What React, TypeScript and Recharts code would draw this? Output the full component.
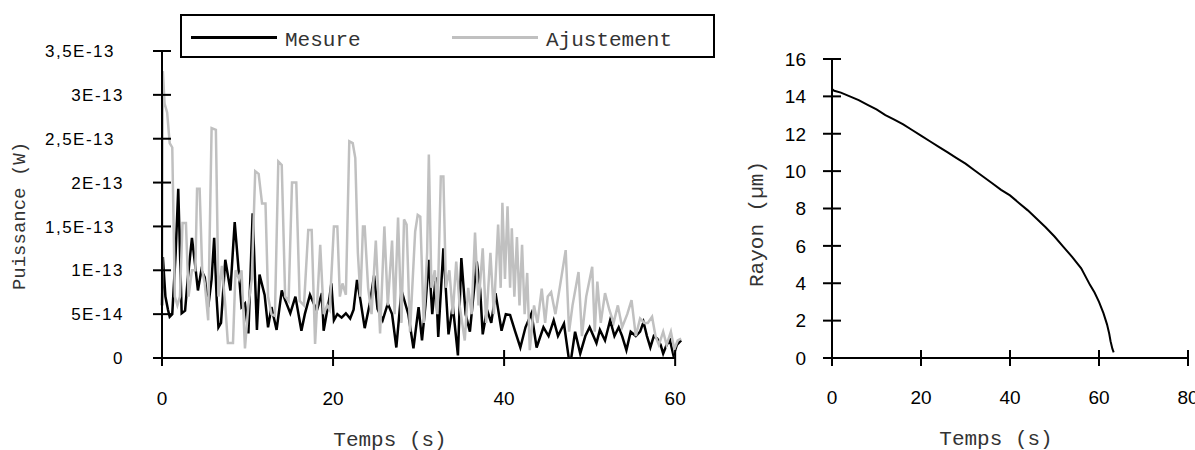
import React from 'react';
import { LineChart, Line, XAxis, YAxis, ReferenceLine } from 'recharts';

// Puissance (in units of 1E-14 W) : [temps (s), valeur]
const mesure: [number, number][] = [
  [0, 6], [0.1, 11.5], [0.4, 7], [0.7, 5.5], [0.9, 4.7], [1.2, 5], [1.6, 12], [1.9, 19.3], [2.3, 5.1], [2.7, 5.4],
  [3.0, 8.9], [3.5, 13.7], [3.9, 10.4], [4.2, 7.7], [4.6, 10], [5.0, 9.2], [5.4, 5.8], [5.8, 9], [6.1, 13.7], [6.4, 6.6],
  [6.6, 3.5], [6.9, 4], [7.4, 11.2], [8.0, 7.7], [8.5, 15.5], [9.0, 9.5], [9.3, 5.8], [9.7, 6.2], [10.1, 2.8], [10.6, 16.5],
  [11.1, 3.2], [11.4, 9.5], [12.0, 7.2], [12.4, 3.5], [12.8, 5.8], [13.4, 3.2], [14.0, 7.7], [14.4, 6.6], [15.0, 5.1], [15.6, 7],
  [16.3, 3.1], [16.7, 5], [17.3, 7.2], [18.1, 5.4], [18.7, 7.4], [18.9, 3.1], [19.6, 7], [19.8, 8.5], [20.1, 4.3], [20.5, 5],
  [21.0, 4.6], [21.5, 5.1], [22.0, 4.5], [22.4, 5.5], [22.8, 8.9], [23.2, 6.6], [23.7, 3.4], [24.3, 6.2], [24.8, 9.4], [25.2, 5.6],
  [25.8, 4.3], [26.4, 6.2], [26.9, 5], [27.4, 1.2], [28.0, 7.7], [28.8, 5], [29.4, 1.1], [30.0, 5.8], [30.4, 2], [30.8, 6],
  [31.2, 11.2], [31.6, 5], [32.0, 9.2], [32.3, 2.4], [32.9, 12.5], [33.5, 2.7], [34.0, 6], [34.6, 0.3], [35.0, 11.4], [35.5, 5],
  [36.0, 3], [36.8, 11], [37.2, 7.8], [37.5, 2.7], [38.0, 5.5], [38.5, 4], [39.0, 7.4], [39.7, 3.1], [40.2, 5], [40.7, 4.9],
  [41.3, 3], [41.9, 1.2], [42.5, 3.5], [43.2, 5.1], [43.8, 1.2], [44.6, 3.5], [45.2, 2.5], [45.8, 4.3], [46.3, 2.5], [47.0, 3.9],
  [47.7, -1.0], [48.3, 3], [48.9, 0.5], [49.5, 2.5], [50.0, 3.5], [50.8, 1.7], [51.2, 3.2], [51.8, 2], [52.4, 4.3], [52.9, 2.5],
  [53.4, 3.5], [53.8, 2.5], [54.3, 0.9], [54.8, 3], [55.4, 2.5], [55.9, 3], [56.3, 4.1], [56.7, 2.5], [57.1, 1.2], [57.5, 2.5],
  [57.9, 2.2], [58.3, 1.5], [58.6, 0.5], [59.0, 1.5], [59.4, 2], [59.8, 0.3], [60.2, 1.5], [60.7, 2],
];

const ajustement: [number, number][] = [
  [0, 6.5], [0.1, 32.7], [0.3, 29], [0.6, 28], [0.9, 24.5], [1.2, 24], [1.5, 7], [1.8, 6], [2.1, 7], [2.4, 15.4],
  [2.8, 15.4], [3.1, 7], [3.5, 10], [3.9, 10], [4.1, 19.3], [4.4, 19.3], [4.7, 10], [5.0, 8.5], [5.4, 4.3], [5.8, 26.2],
  [6.3, 26], [6.6, 7], [7.0, 10.5], [7.4, 6], [7.7, 1.7], [8.3, 1.7], [8.6, 10], [9.0, 9], [9.3, 10], [9.7, 1.1],
  [10.1, 6], [10.5, 9], [10.9, 21.3], [11.3, 21], [11.7, 17.6], [12.1, 17.6], [12.4, 7], [12.8, 5], [13.2, 4.8], [13.6, 22.4],
  [14.0, 22], [14.4, 7], [14.8, 6.5], [15.2, 20], [15.7, 20], [16.1, 6.5], [16.6, 6], [17.1, 14.6], [17.5, 14.6], [17.9, 1.6],
  [18.5, 12.9], [18.9, 5], [19.3, 6], [19.6, 5.5], [20.1, 15], [20.5, 15], [20.8, 7], [21.1, 8.5], [21.5, 7.2], [21.9, 24.7],
  [22.3, 24.5], [22.6, 22.8], [22.9, 12], [23.2, 7], [23.5, 15], [23.7, 15], [24.1, 8], [24.5, 5], [25.0, 13.4], [25.5, 2.8],
  [26.0, 15], [26.4, 6], [26.9, 13.4], [27.2, 5], [27.6, 16], [28.0, 4], [28.3, 15.8], [28.6, 15.2], [29.0, 3], [29.6, 14.4],
  [29.9, 16.3], [30.2, 16.1], [30.6, 4], [31.0, 12], [31.2, 23.2], [31.5, 8], [31.9, 10], [32.2, 5], [32.6, 20.7], [32.9, 20.7],
  [33.2, 8], [33.6, 10], [34.0, 5], [34.4, 11], [34.8, 6], [35.4, 2], [35.8, 8], [36.2, 5], [36.6, 14.3], [37.0, 6],
  [37.5, 12.5], [37.9, 4], [38.4, 12], [38.8, 5], [39.3, 15.2], [39.6, 8], [39.8, 17.7], [40.1, 9], [40.4, 17.3], [40.7, 8],
  [40.9, 14.8], [41.2, 7], [41.5, 13.8], [41.8, 6], [42.1, 12.9], [42.4, 5], [42.7, 9.7], [43.0, 0.9], [43.5, 6], [43.9, 4],
  [44.4, 7.9], [44.8, 4], [45.1, 7], [45.5, 7.5], [46.0, 5], [46.5, 8], [47.2, 12.3], [47.6, 3], [48.0, 6], [48.7, 9.8],
  [49.1, 2.5], [49.6, 7], [50.3, 10.4], [50.6, 3], [50.9, 8.7], [51.3, 4], [51.8, 7.4], [52.3, 5.5], [52.8, 4], [53.3, 6],
  [53.8, 3.5], [54.4, 5], [54.9, 6.6], [55.4, 2.5], [55.9, 4.5], [56.4, 4], [56.8, 4], [57.3, 4.7], [57.7, 2.5], [58.1, 1.5],
  [58.6, 3], [59.0, 1.5], [59.5, 3], [59.9, 1], [60.3, 2], [60.7, 2.2],
];

// Rayon (µm) : [temps (s), valeur]
const rayon: [number, number][] = [
  [0, 14.4], [0.5, 14.3], [2, 14.2], [4, 14.0], [6, 13.8], [8, 13.55], [10, 13.3], [12, 13.0], [14, 12.75], [16, 12.5],
  [18, 12.2], [20, 11.9], [22, 11.6], [24, 11.3], [26, 11.0], [28, 10.7], [30, 10.4], [32, 10.05], [34, 9.7], [36, 9.35],
  [38, 9.0], [40, 8.7], [42, 8.3], [44, 7.9], [46, 7.45], [48, 7.0], [50, 6.5], [52, 5.95], [54, 5.4], [56, 4.8],
  [58, 3.9], [59, 3.5], [60, 3.0], [61, 2.4], [61.8, 1.8], [62.3, 1.3], [62.6, 0.9], [63.0, 0.5], [63.3, 0.3],
];

const seriesNames = ['Mesure', 'Ajustement'];
const seriesColors = ['#000000', '#c0c0c0'];

const puissanceTicks = [0, 5e-14, 1e-13, 1.5e-13, 2e-13, 2.5e-13, 3e-13, 3.5e-13];
const puissanceTickLabels = ['0', '5E-14', '1E-13', '1,5E-13', '2E-13', '2,5E-13', '3E-13', '3,5E-13'];
const tempsTicksLeft = [0, 20, 40, 60];
const rayonTicks = [0, 2, 4, 6, 8, 10, 12, 14, 16];
const tempsTicksRight = [0, 20, 40, 60, 80];

const mesureData = mesure.map(([t, v]) => ({ t, p: v * 1e-14 }));
const ajustData = ajustement.map(([t, v]) => ({ t, p: v * 1e-14 }));
const rayonData = rayon.map(([t, r]) => ({ t, r }));

const SANS = '"Liberation Sans", Arial, sans-serif';
const MONO = '"Liberation Mono", "Courier New", monospace';

const labelForPuissance = (v: number) => {
  let best = 0;
  let bestD = Infinity;
  puissanceTicks.forEach((tk, i) => {
    const d = Math.abs(tk - v);
    if (d < bestD) { bestD = d; best = i; }
  });
  return puissanceTickLabels[best];
};

const LeftYTick = (props: any) => {
  const { x, y, payload } = props;
  const label = labelForPuissance(payload.value);
  const off = label.includes(',') ? 47 : 38;
  return (
    <g>
      <line x1={x - 9} y1={y} x2={x + 9} y2={y} stroke="#000" strokeWidth={2} />
      <text x={x - off} y={y} dy="0.36em" textAnchor="end" fontFamily={SANS} fontSize={17} letterSpacing={1.5} fill="#000">
        {label}
      </text>
    </g>
  );
};

const makeXTick = (fontSize: number, baseline: number) => (props: any) => {
  const { x, y, payload } = props;
  return (
    <g>
      <line x1={x} y1={y - 8} x2={x} y2={y + 8} stroke="#000" strokeWidth={2} />
      <text x={x} y={y + baseline} textAnchor="middle" fontFamily={SANS} fontSize={fontSize} fill="#000">
        {payload.value}
      </text>
    </g>
  );
};

const RightYTick = (props: any) => {
  const { x, y, payload } = props;
  return (
    <g>
      <line x1={x - 9} y1={y} x2={x + 9} y2={y} stroke="#000" strokeWidth={2} />
      <text x={x - 26} y={y} dy="0.36em" textAnchor="end" fontFamily={SANS} fontSize={19} fill="#000">
        {payload.value}
      </text>
    </g>
  );
};

const LeftXTick = makeXTick(19, 47);
const RightXTick = makeXTick(19, 46);

const titleStyle: React.CSSProperties = {
  position: 'absolute',
  fontFamily: MONO,
  color: '#333',
  whiteSpace: 'nowrap',
  lineHeight: 1,
};

export default function App() {
  return (
    <div style={{ position: 'absolute', left: 0, top: 0, width: 1195, height: 450, background: '#fff', overflow: 'hidden' }}>
      <div style={{ position: 'absolute', left: 0, top: 0 }}>
        <LineChart width={700} height={450} margin={{ top: 51, right: 18, bottom: 52, left: 0 }}>
          <XAxis
            type="number"
            dataKey="t"
            domain={[0, 60.8]}
            ticks={tempsTicksLeft}
            interval={0}
            axisLine={false}
            tickLine={false}
            tickSize={0}
            tickMargin={0}
            height={40}
            tick={LeftXTick}
          />
          <YAxis
            type="number"
            domain={[0, 3.5e-13]}
            allowDataOverflow
            ticks={puissanceTicks}
            interval={0}
            width={162}
            axisLine={{ stroke: '#000', strokeWidth: 2 }}
            tickLine={false}
            tickSize={0}
            tickMargin={0}
            tick={LeftYTick}
          />
          <ReferenceLine segment={[{ x: 0, y: 0 }, { x: 60, y: 0 }]} stroke="#000" strokeWidth={2} />
          <Line data={mesureData} dataKey="p" name={seriesNames[0]} stroke={seriesColors[0]} strokeWidth={2.5} dot={false} type="linear" isAnimationActive={false} />
          <Line data={ajustData} dataKey="p" name={seriesNames[1]} stroke={seriesColors[1]} strokeWidth={2.5} dot={false} type="linear" isAnimationActive={false} />
        </LineChart>
      </div>

      <div style={{ position: 'absolute', left: 700, top: 0 }}>
        <LineChart width={495} height={450} data={rayonData} margin={{ top: 59, right: 7, bottom: 52, left: 0 }}>
          <XAxis
            type="number"
            dataKey="t"
            domain={[0, 80]}
            ticks={tempsTicksRight}
            interval={0}
            axisLine={{ stroke: '#000', strokeWidth: 2 }}
            tickLine={false}
            tickSize={0}
            tickMargin={0}
            height={40}
            tick={RightXTick}
          />
          <YAxis
            type="number"
            domain={[0, 16]}
            ticks={rayonTicks}
            interval={0}
            width={132}
            axisLine={{ stroke: '#000', strokeWidth: 2 }}
            tickLine={false}
            tickSize={0}
            tickMargin={0}
            tick={RightYTick}
          />
          <Line dataKey="r" stroke="#000" strokeWidth={2} dot={false} type="linear" isAnimationActive={false} />
        </LineChart>
      </div>

      {/* Legend */}
      <div
        style={{
          position: 'absolute', left: 180, top: 14, width: 535, height: 44, boxSizing: 'border-box',
          border: '2px solid #000', background: '#fff', display: 'flex', alignItems: 'center', paddingLeft: 9, paddingTop: 6,
        }}
      >
        {seriesNames.map((name, i) => (
          <div key={name} style={{ width: 268, display: 'flex', alignItems: 'center' }}>
            <div style={{ width: 86, height: 3, background: seriesColors[i], marginTop: -3 }} />
            <span style={{ fontFamily: MONO, fontSize: 21, color: '#333', marginLeft: 8, lineHeight: 1, marginTop: 3 }}>{name}</span>
          </div>
        ))}
      </div>

      {/* Axis titles */}
      <div style={{ ...titleStyle, left: 20, top: 216, fontSize: 19, transform: 'translate(-50%, -50%) rotate(-90deg)' }}>
        Puissance (W)
      </div>
      <div style={{ ...titleStyle, left: 390, top: 440, fontSize: 21, transform: 'translate(-50%, -50%)' }}>
        Temps (s)
      </div>
      <div style={{ ...titleStyle, left: 757, top: 224, fontSize: 21, transform: 'translate(-50%, -50%) rotate(-90deg)' }}>
        Rayon (µm)
      </div>
      <div style={{ ...titleStyle, left: 996, top: 439, fontSize: 21, transform: 'translate(-50%, -50%)' }}>
        Temps (s)
      </div>
    </div>
  );
}
